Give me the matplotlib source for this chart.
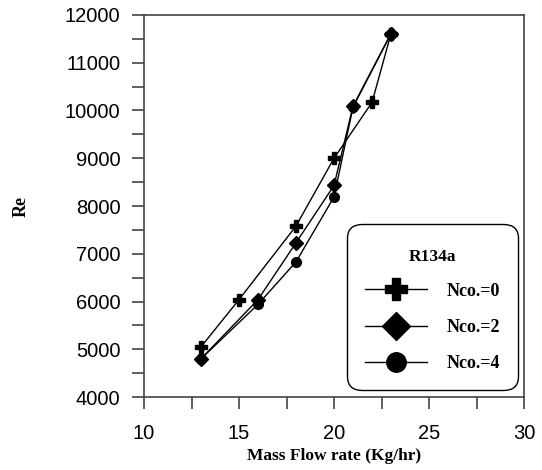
import matplotlib
matplotlib.use("Agg")
import matplotlib.pyplot as plt
from matplotlib.ticker import MultipleLocator
from matplotlib.offsetbox import VPacker, DrawingArea

x0 = [13, 15, 18, 20, 22, 23]
re0 = [5050, 6040, 7580, 9000, 10170, 11610]
x2 = [13, 16, 18, 20, 21, 23]
re2 = [4800, 6040, 7230, 8430, 10090, 11610]
x4 = [13, 16, 18, 20, 21, 23]
re4 = [4800, 5940, 6830, 8190, 10070, 11610]
labels = ["Nco.=0", "Nco.=2", "Nco.=4"]

fig = plt.figure(figsize=(5.42, 4.70), dpi=100)
ax = fig.add_axes([0.2657, 0.1553, 0.7011, 0.8128])

serif = ["Liberation Serif", "DejaVu Serif"]
sans = ["Liberation Sans", "DejaVu Sans"]

ax.plot(x0, re0, color="black", lw=1, marker="P", ms=8, label=labels[0])
ax.plot(x2, re2, color="black", lw=1, marker="D", ms=7, label=labels[1])
ax.plot(x4, re4, color="black", lw=1, marker="o", ms=7, label=labels[2])

ax.set_xlim(10, 30)
ax.set_ylim(4000, 12000)
ax.xaxis.set_major_locator(MultipleLocator(5))
ax.xaxis.set_minor_locator(MultipleLocator(2.5))
ax.yaxis.set_major_locator(MultipleLocator(1000))
ax.yaxis.set_minor_locator(MultipleLocator(500))
ax.tick_params(which="both", direction="out", top=False, right=False, width=1.2,
               color="#444444", length=8.6)
ax.tick_params(axis="y", which="major", pad=8.4)
ax.tick_params(axis="x", which="major", pad=11)
for lab in ax.get_xticklabels() + ax.get_yticklabels():
    lab.set_family(sans)
    lab.set_fontsize(14.5)
for s in ax.spines.values():
    s.set_color("#444444")
    s.set_linewidth(1.2)

ax.set_xlabel("Mass Flow rate (Kg/hr)", family=serif, fontweight="bold", fontsize=12.5)
ax.xaxis.set_label_coords(0.5, -0.134)
ax.set_ylabel("Re", family=serif, fontweight="bold", fontsize=13)
ax.yaxis.set_label_coords(-0.30, 0.5)

leg = ax.legend(title="R134a", loc="lower right", bbox_to_anchor=(0.984, 0.0183),
                borderaxespad=0, fancybox=True, framealpha=1, edgecolor="black",
                markerscale=2.0, handlelength=3.4, handletextpad=1.1,
                labelspacing=1.06, borderpad=1.0,
                prop={"family": serif, "weight": "bold", "size": 13})
leg.get_title().set_family(serif)
leg.get_title().set_fontweight("bold")
leg.get_title().set_fontsize(12.5)
leg._legend_box.sep = 13
title_box = leg._legend_box.get_children()[0]
spacer = DrawingArea(1, 5)
leg._legend_box._children[0] = VPacker(pad=0, sep=0, align="center",
                                        children=[spacer, title_box])
leg.get_frame().set_linewidth(1.0)
leg.get_frame().set_boxstyle("round,pad=0,rounding_size=0.8")

fig.savefig("out.png", dpi=100)
